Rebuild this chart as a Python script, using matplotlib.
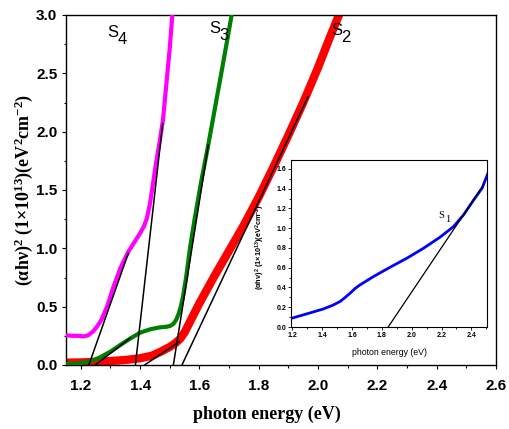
import matplotlib
matplotlib.use("Agg")
import matplotlib.pyplot as plt
from matplotlib.ticker import MultipleLocator, FormatStrFormatter
from matplotlib import transforms

plt.rcParams['mathtext.fontset'] = 'custom'
plt.rcParams['mathtext.rm'] = 'Liberation Sans'
plt.rcParams['mathtext.bf'] = 'Liberation Serif:bold'
plt.rcParams['mathtext.sf'] = 'Liberation Sans:bold'
plt.rcParams['mathtext.default'] = 'bf'

## S4 (magenta)
s4_x = [1.15, 1.17, 1.19, 1.21, 1.225, 1.24, 1.255, 1.27, 1.29, 1.31, 1.335, 1.36,
        1.38, 1.40, 1.413, 1.423, 1.433, 1.443, 1.453, 1.465, 1.477, 1.49, 1.50, 1.51]
s4_y = [0.255, 0.25, 0.25, 0.245, 0.255, 0.285, 0.33, 0.39, 0.51, 0.67, 0.84, 0.97,
        1.05, 1.13, 1.19, 1.26, 1.38, 1.55, 1.72, 1.90, 2.10, 2.45, 2.72, 3.05]

## S3 (green)
s3_x = [1.15, 1.19, 1.23, 1.265, 1.30, 1.335, 1.37, 1.40, 1.435, 1.465, 1.49, 1.503,
        1.513, 1.522, 1.53, 1.537, 1.545, 1.555, 1.568, 1.583, 1.605, 1.63, 1.655, 1.68, 1.71]
s3_y = [0.01, 0.014, 0.029, 0.066, 0.115, 0.175, 0.232, 0.277, 0.307, 0.322, 0.328, 0.337,
        0.355, 0.39, 0.44, 0.50, 0.59, 0.75, 1.0, 1.24, 1.56, 1.89, 2.24, 2.59, 3.02]

## S2 (red)
s2_x = [1.15, 1.20, 1.25, 1.30, 1.35, 1.40, 1.44, 1.47, 1.50, 1.52, 1.535, 1.55, 1.57, 1.60,
        1.65, 1.70, 1.75, 1.80, 1.85, 1.90, 1.95, 2.00, 2.04, 2.08]
s2_y = [0.02, 0.022, 0.027, 0.034, 0.043, 0.058, 0.08, 0.115, 0.155, 0.19, 0.225, 0.28, 0.38, 0.53,
        0.76, 0.98, 1.2, 1.44, 1.70, 1.97, 2.25, 2.55, 2.81, 3.06]

## S1 (blue, inset)
s1_x = [1.193, 1.294, 1.406, 1.47, 1.518, 1.55, 1.586, 1.62, 1.653, 1.70, 1.743, 1.855,
        1.967, 2.079, 2.19, 2.281, 2.348, 2.416, 2.472, 2.51]
s1_y = [0.088, 0.132, 0.182, 0.22, 0.257, 0.295, 0.341, 0.39, 0.426, 0.47, 0.51, 0.605,
        0.696, 0.797, 0.909, 1.017, 1.135, 1.287, 1.405, 1.55]

## linear fits (x0, x1), (y0, y1)
fits_main = [
    ((1.227, 1.36), (0.0, 0.957)),
    ((1.384, 1.476), (0.0, 2.07)),
    ((1.249, 1.366), (0.0, 0.23)),
    ((1.512, 1.63), (0.0, 1.886)),
    ((1.415, 1.532), (0.0, 0.2)),
    ((1.541, 1.966), (0.0, 2.3)),
]
fit_inset = ((1.842, 2.483), (0.0, 1.44))

## sample labels: (text, digit, x, y)
labels_main = [("S", "4", 1.288, 2.811), ("S", "3", 1.632, 2.846), ("S", "2", 2.043, 2.829)]


def sampleLabel(ax, fig, s, d, x, y, size, dx, dy, family):
    ax.text(x, y, s, fontsize=size, family=family, ha='left', va='baseline')
    tr = transforms.offset_copy(ax.transData, fig=fig, x=dx, y=dy, units='points')
    ax.text(x, y, d, fontsize=size, family=family, ha='left', va='baseline', transform=tr)


def main():
    f = plt.figure(figsize=(5.1, 4.29), dpi=100)
    ax = f.add_axes([66/510, 1-365/429, 430/510, 350/429])

    ax.plot(s2_x, s2_y, color='#ff0000', linewidth=6, solid_capstyle='butt', zorder=2)
    ax.plot(s3_x, s3_y, color='#008000', linewidth=3, zorder=3)
    ax.plot(s4_x, s4_y, color='#ff00ff', linewidth=3, zorder=3)
    for fx, fy in fits_main:
        ax.plot(fx, fy, color='black', linewidth=1.1, zorder=5)

    for s, d, x, y in labels_main:
        sampleLabel(ax, f, s, d, x, y, 12, 7.5, -5, 'Liberation Sans')

    ax.set_xlim(1.15, 2.6)
    ax.set_ylim(0, 3.0)
    ax.xaxis.set_major_locator(MultipleLocator(0.2))
    ax.xaxis.set_minor_locator(MultipleLocator(0.1))
    ax.yaxis.set_major_locator(MultipleLocator(0.5))
    ax.yaxis.set_minor_locator(MultipleLocator(0.25))
    ax.xaxis.set_major_formatter(FormatStrFormatter('%.1f'))
    ax.yaxis.set_major_formatter(FormatStrFormatter('%.1f'))
    ax.tick_params(which='both', direction='out', top=False, right=False, width=0.8)
    ax.tick_params(which='major', length=3.2)
    ax.tick_params(which='minor', length=1.8)
    ax.tick_params(axis='x', pad=7)
    ax.tick_params(axis='y', pad=3)
    for lab in ax.get_xticklabels() + ax.get_yticklabels():
        lab.set_fontfamily('Liberation Sans')
        lab.set_fontweight('bold')
        lab.set_fontsize(11)
    for sp in ax.spines.values():
        sp.set_linewidth(1.0)

    ax.set_xlabel('photon energy (eV)', family='Liberation Serif', weight='bold', fontsize=13, va='top')
    ax.xaxis.set_label_coords(0.467, -0.117)
    ax.set_ylabel(r'(αhν)$^{2}$ (1×10$^{13}$)(eV$^{2}$cm$^{-2}$)', family='Liberation Serif',
                  weight='bold', fontsize=13)
    ax.yaxis.set_label_coords(-0.072, 0.5)

    ## Inset
    ins = f.add_axes([291/510, 1-327/429, 196/510, 167/429])
    ins.plot(s1_x, s1_y, color='#0000ff', linewidth=2.0)
    ins.plot(fit_inset[0], fit_inset[1], color='black', linewidth=0.9)
    sampleLabel(ins, f, "S", "1", 2.18, 1.10, 7.5, 5, -2.5, 'Liberation Serif')
    ins.set_xlim(1.19, 2.505)
    ins.set_ylim(0, 1.69)
    ins.xaxis.set_major_locator(MultipleLocator(0.2))
    ins.xaxis.set_minor_locator(MultipleLocator(0.1))
    ins.yaxis.set_major_locator(MultipleLocator(0.2))
    ins.yaxis.set_minor_locator(MultipleLocator(0.1))
    ins.xaxis.set_major_formatter(FormatStrFormatter('%.1f'))
    ins.yaxis.set_major_formatter(FormatStrFormatter('%.1f'))
    ins.tick_params(which='both', direction='out', top=False, right=False, width=0.6, pad=1.5)
    ins.tick_params(which='major', length=2.0)
    ins.tick_params(which='minor', length=1.2)
    for lab in ins.get_xticklabels() + ins.get_yticklabels():
        lab.set_fontfamily('Liberation Sans')
        lab.set_fontweight('bold')
        lab.set_fontsize(5)
    for sp in ins.spines.values():
        sp.set_linewidth(0.8)
    ins.set_xlabel('photon energy (eV)', family='Liberation Sans', fontsize=6.3, va='top')
    ins.xaxis.set_label_coords(0.505, -0.126)
    ins.set_ylabel(r'(αhν)$^{\mathsf{2}}$ (1×10$^{\mathsf{13}}$)(eV$^{\mathsf{2}}$cm$^{\mathsf{-2}}$)',
                   family='Liberation Sans', weight='bold', fontsize=5.3)
    ins.yaxis.set_label_coords(-0.128, 0.48)

    f.savefig('out.png', dpi=100)
    return 0


if __name__ == '__main__':
    main()
